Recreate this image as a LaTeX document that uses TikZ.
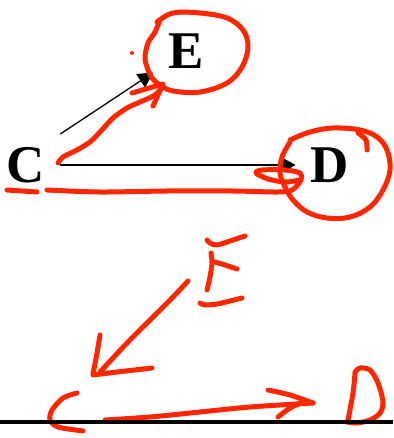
\documentclass[tikz,border=0pt]{standalone}
\usepackage{fontspec}
\setmainfont{Liberation Serif}
\usetikzlibrary{arrows.meta}
\definecolor{pen}{RGB}{255,38,0}
\tikzset{
  lettr/.style={inner sep=0pt, font=\fontsize{53}{53}\selectfont\bfseries},
  blk/.style={black, line width=1.3pt, -{Triangle[length=15pt,width=16pt]}},
  ink/.style={pen, line width=5pt, line cap=round, line join=round},
}
\begin{document}
\begin{tikzpicture}[x=1pt, y=-1pt]

        \useasboundingbox (0,0) rectangle (393,438);

        % typed graph

        \node[lettr] (C) at (26,165) {C};
        \node[lettr] (E) at (186,51) {E};
        \node[lettr] (D) at (330,165) {D};

        \draw[blk] ([shift={(15,-13)}]C.north east) -- ([shift={(-15,4)}]E.south west);
        \draw[blk] ([xshift=15pt]C.east) -- ([xshift=-15pt]D.west);

        % red pen, top

        \draw[ink] plot[smooth, tension=0.6] coordinates {(157,22) (173,13) (200,13) (227,18) (243,30) (248,47)
            (242,67) (227,83) (200,92) (173,91) (160,85) (152,78) (147,67) (145,57) (148,43) (155,32) (160,20)}; % ring E
        \fill[pen] (132,53) circle (2);

        \draw[ink] plot[smooth] coordinates {(58,163) (63,157) (77,150) (90,142) (100,132) (113,118)
            (127,108) (140,102) (155,95) (163,86)}; % C to E
        \draw[ink] (132,93) -- (163,84) -- (153,106);

        \draw[ink] plot[smooth, tension=0.6] coordinates {(290,140) (310,132) (333,128) (360,130) (377,137)
            (387,150) (390,170) (383,190) (370,207) (350,217) (327,218) (307,212) (293,200) (285,187)
            (280,173) (282,157) (290,142)}; % ring D
        \draw[ink] plot[smooth] coordinates {(358,133) (366,140) (367,150)};

        \draw[ink] (7,190) -- (37,192); % under C
        \draw[ink] plot[smooth] coordinates {(47,190) (100,192) (167,191) (233,191) (277,192) (292,190)
            (301,180) (300,173) (285,170) (262,170) (256,173) (268,179) (285,182) (300,180)};

        % red pen, bottom

        \draw[ink] plot[smooth] coordinates {(207,240) (210,243) (217,245) (233,240) (245,236)}; % E
        \draw[ink] plot[smooth] coordinates {(211,253) (212,263) (210,277) (207,290)};
        \draw[ink] plot[smooth] coordinates {(215,262) (225,265) (237,269)};
        \draw[ink] plot[smooth] coordinates {(200,303) (205,305) (217,304) (230,301) (242,298)};

        \draw[ink] plot[smooth] coordinates {(188,281) (173,297) (150,320) (127,343) (100,372)}; % E to C
        \draw[ink] plot[smooth] coordinates {(100,335) (97,353) (93,374)};
        \draw[ink] plot[smooth] coordinates {(93,375) (117,372) (152,368)};

        \draw[ink] plot[smooth] coordinates {(77,393) (63,398) (52,410) (50,420) (58,427) (83,431)}; % C

        \draw[ink] plot[smooth] coordinates {(105,420) (150,417) (200,412) (250,407) (313,403)}; % C to D
        \draw[ink] plot[smooth] coordinates {(268,390) (290,395) (313,403)};
        \draw[ink] plot[smooth] coordinates {(278,417) (290,408) (303,402)};

        \draw[ink] plot[smooth] coordinates {(355,373) (353,393) (348,420)}; % D
        \draw[ink] plot[smooth] coordinates {(355,372) (360,368) (370,370) (378,383) (383,402) (380,413)
            (370,420) (357,423) (347,422)};

        % ground

        \draw[black, line width=4pt] (0,422) -- (393,422);

    \end{tikzpicture}
\end{document}
